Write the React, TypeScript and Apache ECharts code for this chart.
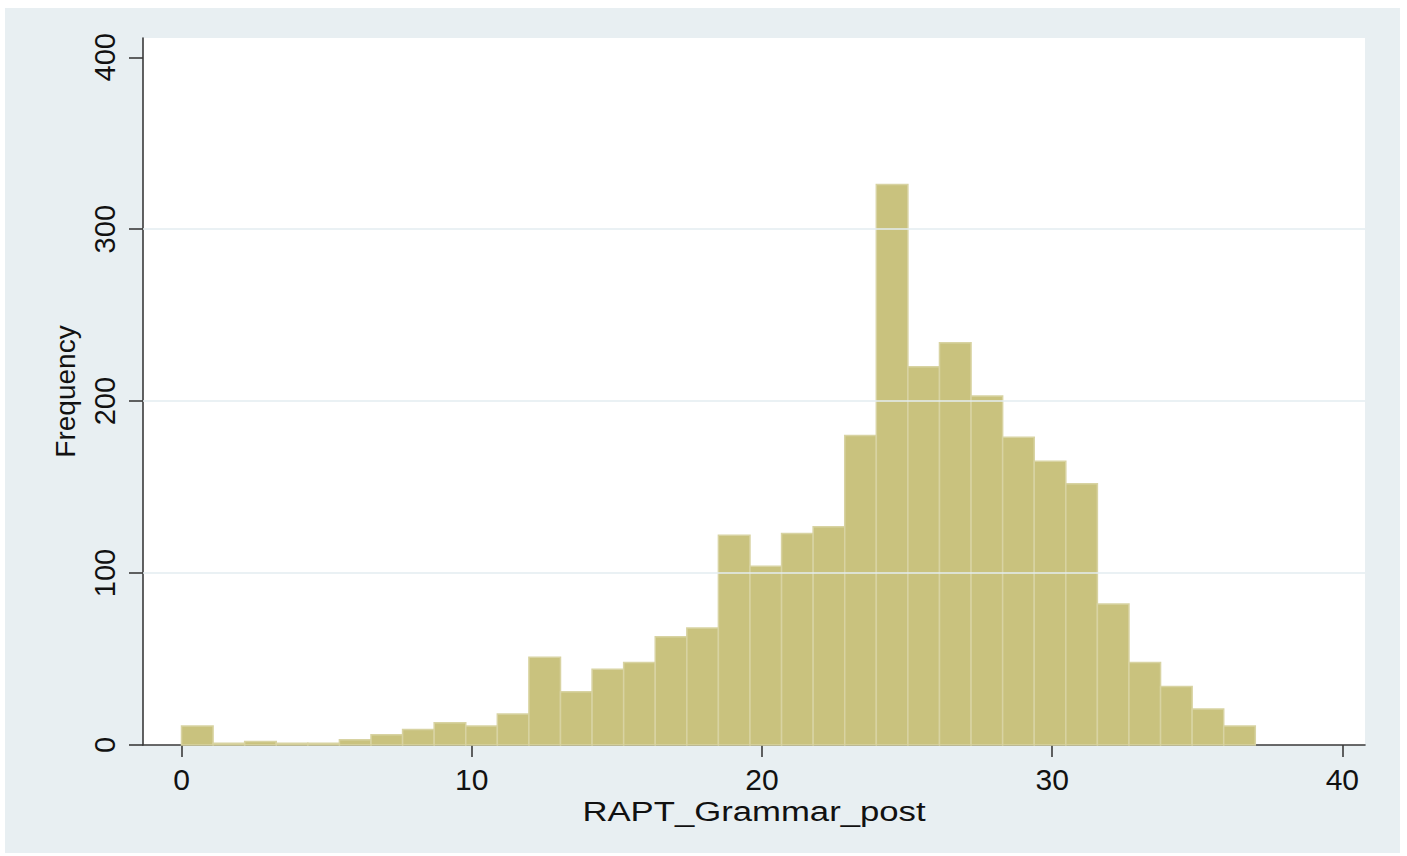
import React, { useEffect, useRef } from "react";
import * as echarts from "echarts";

// Histogram of RAPT_Grammar_post (34 bins from 0 to 37)
const counts = [
  11, 1, 2, 1, 1, 3, 6, 9, 13, 11, 18, 51, 31, 44, 48, 63, 68, 122, 104, 123,
  127, 180, 326, 220, 234, 203, 179, 165, 152, 82, 48, 34, 21, 11,
];
const binStart = 0;
const binEnd = 37;
const xTicks = [0, 10, 20, 30, 40];
const yTicks = [0, 100, 200, 300, 400];
const gridValues = [100, 200, 300];
const xTitle = "RAPT_Grammar_post";
const yTitle = "Frequency";

const FONT = "'Liberation Sans', Arial, Helvetica, sans-serif";

export default function App() {
  const ref = useRef<HTMLDivElement>(null);

  useEffect(() => {
    if (!ref.current) return;
    const chart = echarts.init(ref.current, undefined, { renderer: "svg" });
    const binWidth = (binEnd - binStart) / counts.length;
    const bins = counts.map((c, i) => [
      binStart + i * binWidth,
      binStart + (i + 1) * binWidth,
      c,
    ]);

    const axisColor = "#3a3a3a";
    const textColor = "#111111";

    chart.setOption({
      animation: false,
      backgroundColor: "#ffffff",
      graphic: [
        {
          type: "rect",
          z: -20,
          silent: true,
          shape: { x: 5, y: 8, width: 1395, height: 845 },
          style: { fill: "#e8eff2" },
        },
        {
          type: "rect",
          z: -10,
          silent: true,
          shape: { x: 143, y: 38, width: 1222, height: 707 },
          style: { fill: "#ffffff" },
        },
        {
          type: "text",
          z: 10,
          silent: true,
          x: 754,
          y: 811,
          scaleX: 1.24,
          style: {
            text: xTitle,
            x: 0,
            y: 0,
            align: "center",
            verticalAlign: "middle",
            fontFamily: FONT,
            fontSize: 28,
            fill: textColor,
          },
        },
      ],
      grid: { left: 143, right: 42, top: 38, bottom: 111, containLabel: false },
      xAxis: {
        type: "value",
        min: -1.327,
        max: 40.78,
        axisLine: { show: true, onZero: false, lineStyle: { color: axisColor, width: 1.6 } },
        axisTick: {
          show: true,
          length: 12,
          customValues: xTicks,
          lineStyle: { color: axisColor, width: 1.6 },
        },
        axisLabel: {
          show: true,
          customValues: xTicks,
          margin: 19,
          fontFamily: FONT,
          fontSize: 30,
          color: textColor,
        },
        splitLine: { show: false },
      },
      yAxis: {
        type: "value",
        min: 0,
        max: 411.2,
        name: yTitle,
        nameLocation: "middle",
        nameRotate: 90,
        nameGap: 64,
        nameTextStyle: { fontFamily: FONT, fontSize: 28, color: textColor },
        axisLine: { show: true, onZero: false, lineStyle: { color: axisColor, width: 1.6 } },
        axisTick: {
          show: true,
          length: 14,
          customValues: yTicks,
          lineStyle: { color: axisColor, width: 1.6 },
        },
        axisLabel: {
          show: true,
          customValues: yTicks,
          rotate: 90,
          margin: 24,
          fontFamily: FONT,
          fontSize: 29,
          color: textColor,
        },
        splitLine: { show: false },
      },
      series: [
        {
          type: "line",
          data: [],
          z: 1,
          silent: true,
          markLine: {
            silent: true,
            symbol: "none",
            label: { show: false },
            lineStyle: { color: "#e3edf0", width: 1.5, type: "solid" },
            data: gridValues.map((v) => ({ yAxis: v })),
          },
        },
        {
          type: "custom",
          z: 2,
          data: bins,
          encode: { x: [0, 1], y: 2 },
          renderItem: (_params: any, api: any) => {
            const x0 = api.value(0);
            const x1 = api.value(1);
            const v = api.value(2);
            const p0 = api.coord([x0, v]);
            const p1 = api.coord([x1, 0]);
            return {
              type: "rect",
              shape: {
                x: p0[0],
                y: p0[1],
                width: p1[0] - p0[0],
                height: p1[1] - p0[1],
              },
              style: { fill: "#c9c27e", stroke: "#d8d3a2", lineWidth: 1.5 },
            };
          },
        },
      ],
    });

    return () => chart.dispose();
  }, []);

  return (
    <div
      ref={ref}
      style={{ position: "absolute", left: 0, top: 0, width: 1407, height: 856 }}
    />
  );
}
